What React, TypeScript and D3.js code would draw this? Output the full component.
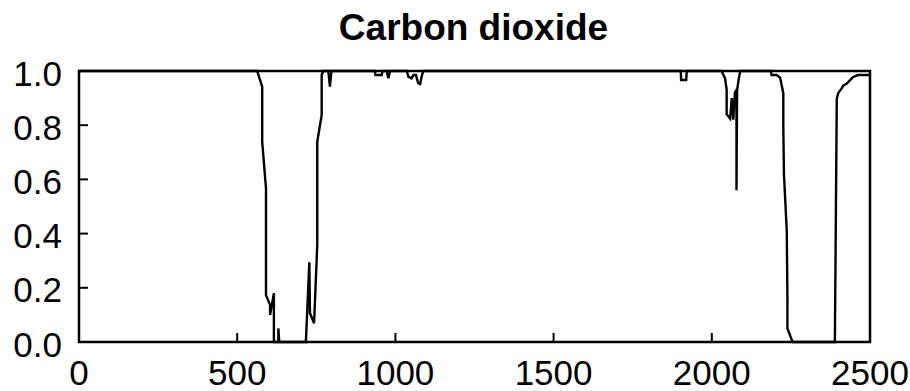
import React from "react";
import * as d3 from "d3";

const title = "Carbon dioxide";
const positions = [
  0, 563, 579, 579, 591, 591, 604, 604, 616, 616, 630, 630, 633, 717, 728, 730, 743, 753, 753, 767, 767, 772,
  788, 793, 798, 935, 937, 957, 959, 972, 978, 983, 1036, 1041, 1051, 1057, 1065, 1072, 1078, 1083, 1088,
  1902, 1903, 1919, 1921, 2031, 2042, 2047, 2047, 2058, 2063, 2068, 2073, 2078, 2078, 2080, 2085, 2090,
  2186, 2189, 2205, 2216, 2226, 2226, 2228, 2237, 2239, 2239, 2253, 2256, 2389, 2395, 2400, 2410, 2416,
  2426, 2437, 2447, 2462, 2500,
];
const fractions = [
  1.0, 1.0, 0.942, 0.739, 0.567, 0.173, 0.136, 0.1, 0.18, 0.0, 0.0, 0.05, 0.0, 0.0, 0.294, 0.106, 0.069, 0.358, 0.739, 0.838, 0.985, 1.0,
  1.0, 0.942, 1.0, 1.0, 0.985, 0.985, 1.0, 1.0, 0.973, 1.0, 1.0, 0.979, 0.973, 0.985, 0.985, 0.955, 0.952, 0.98, 1.0,
  1.0, 0.967, 0.967, 1.0, 1.0, 0.972, 0.93, 0.84, 0.824, 0.9, 0.82, 0.92, 0.93, 0.56, 0.93, 0.97, 1.0,
  1.0, 0.985, 0.985, 0.975, 0.918, 0.794, 0.622, 0.407, 0.161, 0.05, 0.007, 0.0, 0.0, 0.898, 0.92, 0.935, 0.947,
  0.953, 0.966, 0.978, 0.985, 0.985,
];
const xTicks = [0, 500, 1000, 1500, 2000, 2500];
const yTicks = [0, 0.2, 0.4, 0.6, 0.8, 1.0];

const W = 910;
const H = 391;
const M = { left: 79, right: 870, top: 71, bottom: 342 };
const FONT = "'Liberation Sans', Arial, Helvetica, sans-serif";

export default function App() {
  const x = d3.scaleLinear().domain([0, 2500]).range([M.left, M.right]);
  const y = d3.scaleLinear().domain([0, 1]).range([M.bottom, M.top]);
  const pts: [number, number][] = positions.map((p, i) => [p, fractions[i]]);
  const path = d3
    .line<[number, number]>()
    .x((d) => x(d[0]))
    .y((d) => y(d[1]))(pts);
  const tickLen = 9;
  return (
    <svg width={W} height={H} style={{ position: "absolute", left: 0, top: 0, background: "#fff" }}>
      <rect x={0} y={0} width={W} height={H} fill="#fff" />
      <text
        x={(M.left + M.right) / 2 - 1}
        y={40}
        textAnchor="middle"
        fontFamily={FONT}
        fontWeight="bold"
        fontSize={37}
        fill="#000"
      >
        {title}
      </text>
      <path d={path ?? ""} fill="none" stroke="#000" strokeWidth={2.4} strokeLinejoin="miter" />
      <rect
        x={M.left}
        y={M.top}
        width={M.right - M.left}
        height={M.bottom - M.top}
        fill="none"
        stroke="#000"
        strokeWidth={2.5}
      />
      {yTicks.map((t) => (
        <g key={"y" + t}>
          <line x1={M.left} x2={M.left + tickLen} y1={y(t)} y2={y(t)} stroke="#000" strokeWidth={2} />
          <text
            x={62}
            y={y(t) + 2}
            textAnchor="end"
            dominantBaseline="central"
            fontFamily={FONT}
            fontSize={35}
            fill="#000"
          >
            {t.toFixed(1)}
          </text>
        </g>
      ))}
      {xTicks.map((t) => (
        <g key={"x" + t}>
          <line x1={x(t)} x2={x(t)} y1={M.bottom} y2={M.bottom - tickLen} stroke="#000" strokeWidth={2} />
          <text
            x={x(t)}
            y={385}
            textAnchor="middle"
            fontFamily={FONT}
            fontSize={35}
            fill="#000"
          >
            {t}
          </text>
        </g>
      ))}
    </svg>
  );
}
